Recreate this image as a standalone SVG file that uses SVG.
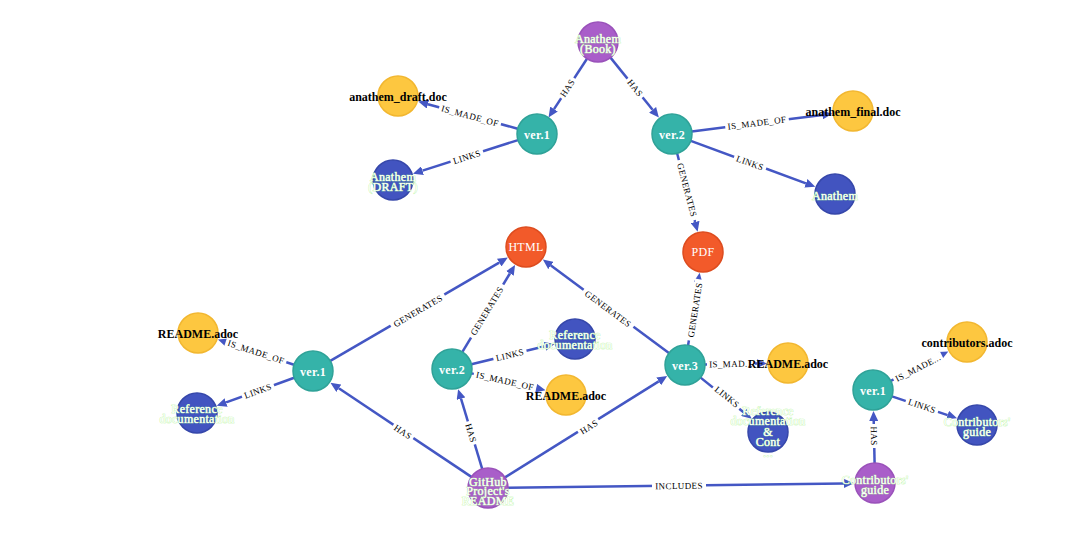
<svg xmlns="http://www.w3.org/2000/svg" width="1087" height="551" viewBox="0 0 1087 551">
<style>
.bg{fill:#fff}
.e{stroke:#4457c4;stroke-width:2.5;fill:none;marker-end:url(#arr)}
.lb{fill:#fff}
.lt{font-family:"Liberation Serif",serif;font-size:9px;fill:#000;text-anchor:middle;letter-spacing:0.4px}
.c{stroke-width:1.5}
.pu{fill:#a95ec9;stroke:#9a52ba}
.te{fill:#35b3a9;stroke:#2fa298}
.ye{fill:#fdc740;stroke:#f2b730}
.bl{fill:#4254c0;stroke:#3647aa}
.rd{fill:#f25a2a;stroke:#dd4c1f}
.cap{font-family:"Liberation Serif",serif;font-size:12px;fill:#fff;stroke:#b6f59c;stroke-width:0.7;paint-order:stroke;text-anchor:middle;letter-spacing:0.3px}
.v{font-weight:bold;stroke:none}
.w{stroke:none}
.dk{font-family:"Liberation Serif",serif;font-size:12px;font-weight:bold;fill:#000;text-anchor:middle}
</style>
<defs>
<marker id="arr" markerUnits="userSpaceOnUse" markerWidth="10" markerHeight="9" refX="0" refY="4.5" orient="auto"><path d="M0,0 L10,4.5 L0,9 Z" fill="#4457c4"/></marker>
</defs>
<rect class="bg" x="0" y="0" width="1087" height="551"/>
<g id="connectors">
<line class="e" x1="587" y1="58.7" x2="554" y2="109.1"/>
<line class="e" x1="610.5" y1="57.6" x2="652.6" y2="109.8"/>
<line class="e" x1="517.7" y1="128.7" x2="427.9" y2="104.2"/>
<line class="e" x1="518" y1="140.1" x2="422.5" y2="170.6"/>
<line class="e" x1="691.8" y1="131.5" x2="822.3" y2="114.9"/>
<line class="e" x1="690.8" y1="140.9" x2="805.9" y2="183.3"/>
<line class="e" x1="677.1" y1="153.3" x2="695.1" y2="222"/>
<line class="e" x1="471.4" y1="476.9" x2="338.8" y2="388.2"/>
<line class="e" x1="482.2" y1="468.9" x2="461" y2="398.7"/>
<line class="e" x1="505" y1="477.4" x2="658.7" y2="381.4"/>
<line class="e" x1="508" y1="487.7" x2="844" y2="483.4"/>
<line class="e" x1="294" y1="364.7" x2="227.4" y2="342.7"/>
<line class="e" x1="294.2" y1="377.8" x2="226.1" y2="402.4"/>
<line class="e" x1="330.3" y1="360.9" x2="499.2" y2="262.6"/>
<line class="e" x1="462.4" y1="351.9" x2="509.9" y2="273.5"/>
<line class="e" x1="471.4" y1="364.3" x2="544.9" y2="346.3"/>
<line class="e" x1="471.5" y1="373.4" x2="535.8" y2="388.1"/>
<line class="e" x1="668.9" y1="353.1" x2="550.9" y2="265.5"/>
<line class="e" x1="688.1" y1="345.2" x2="698.1" y2="282.6"/>
<line class="e" x1="705" y1="364.6" x2="757" y2="363.6"/>
<line class="e" x1="700.6" y1="377.6" x2="743.9" y2="412.5"/>
<line class="e" x1="874.6" y1="463" x2="873.7" y2="421"/>
<line class="e" x1="890.8" y1="380.9" x2="939.4" y2="356.1"/>
<line class="e" x1="892" y1="396.4" x2="947.6" y2="415.1"/>
<g transform="translate(567.5,88) rotate(-56.7)"><rect class="lb" x="-12" y="-5" width="24" height="10"/><text class="lt" y="3">HAS</text></g>
<g transform="translate(635,88) rotate(51.2)"><rect class="lb" x="-12" y="-5" width="24" height="10"/><text class="lt" y="3">HAS</text></g>
<g transform="translate(470,116) rotate(15.3)"><rect class="lb" x="-32" y="-5" width="64" height="10"/><text class="lt" y="3">IS_MADE_OF</text></g>
<g transform="translate(467,157) rotate(-17.7)"><rect class="lb" x="-17" y="-5" width="34" height="10"/><text class="lt" y="3">LINKS</text></g>
<g transform="translate(757,123) rotate(-7.2)"><rect class="lb" x="-32" y="-5" width="64" height="10"/><text class="lt" y="3">IS_MADE_OF</text></g>
<g transform="translate(750,163) rotate(20.2)"><rect class="lb" x="-17" y="-5" width="34" height="10"/><text class="lt" y="3">LINKS</text></g>
<g transform="translate(687,190) rotate(75.3)"><rect class="lb" x="-31" y="-5" width="62" height="10"/><text class="lt" y="3">GENERATES</text></g>
<g transform="translate(403,432) rotate(33.8)"><rect class="lb" x="-12" y="-5" width="24" height="10"/><text class="lt" y="3">HAS</text></g>
<g transform="translate(471,433) rotate(73.2)"><rect class="lb" x="-12" y="-5" width="24" height="10"/><text class="lt" y="3">HAS</text></g>
<g transform="translate(589,427) rotate(-32)"><rect class="lb" x="-12" y="-5" width="24" height="10"/><text class="lt" y="3">HAS</text></g>
<g transform="translate(679,486) rotate(-0.7)"><rect class="lb" x="-27" y="-5" width="54" height="10"/><text class="lt" y="3">INCLUDES</text></g>
<g transform="translate(256,352) rotate(18.3)"><rect class="lb" x="-32" y="-5" width="64" height="10"/><text class="lt" y="3">IS_MADE_OF</text></g>
<g transform="translate(258,391) rotate(-19.9)"><rect class="lb" x="-17" y="-5" width="34" height="10"/><text class="lt" y="3">LINKS</text></g>
<g transform="translate(418,311) rotate(-30.2)"><rect class="lb" x="-31" y="-5" width="62" height="10"/><text class="lt" y="3">GENERATES</text></g>
<g transform="translate(487,311) rotate(-58.8)"><rect class="lb" x="-31" y="-5" width="62" height="10"/><text class="lt" y="3">GENERATES</text></g>
<g transform="translate(510,355) rotate(-13.7)"><rect class="lb" x="-17" y="-5" width="34" height="10"/><text class="lt" y="3">LINKS</text></g>
<g transform="translate(505,381) rotate(12.8)"><rect class="lb" x="-32" y="-5" width="64" height="10"/><text class="lt" y="3">IS_MADE_OF</text></g>
<g transform="translate(608,309) rotate(36.6)"><rect class="lb" x="-31" y="-5" width="62" height="10"/><text class="lt" y="3">GENERATES</text></g>
<g transform="translate(695,310) rotate(-81)"><rect class="lb" x="-31" y="-5" width="62" height="10"/><text class="lt" y="3">GENERATES</text></g>
<g transform="translate(731,364) rotate(-1.1)"><rect class="lb" x="-24" y="-5" width="48" height="10"/><text class="lt" y="3">IS_MAD...</text></g>
<g transform="translate(727,397) rotate(38.9)"><rect class="lb" x="-17" y="-5" width="34" height="10"/><text class="lt" y="3">LINKS</text></g>
<g transform="translate(874,436) rotate(88.8)"><rect class="lb" x="-12" y="-5" width="24" height="10"/><text class="lt" y="3">HAS</text></g>
<g transform="translate(918,368) rotate(-27)"><rect class="lb" x="-27" y="-5" width="54" height="10"/><text class="lt" y="3">IS_MADE...</text></g>
<g transform="translate(922,406) rotate(18.6)"><rect class="lb" x="-17" y="-5" width="34" height="10"/><text class="lt" y="3">LINKS</text></g>
</g>
<g id="n-book"><circle class="c pu" cx="598" cy="42" r="20"/><text class="cap" x="598" y="43">Anathem</text><text class="cap" x="598" y="53">(Book)</text></g>
<g id="n-draftdoc"><circle class="c ye" cx="398" cy="96" r="20"/><text class="dk" x="398" y="101">anathem_draft.doc</text></g>
<g id="n-ver1a"><circle class="c te" cx="537" cy="134" r="20"/><text class="cap v" x="537" y="139">ver.1</text></g>
<g id="n-draft"><circle class="c bl" cx="393" cy="180" r="20"/><text class="cap" x="393" y="181">Anathem</text><text class="cap" x="393" y="191">(DRAFT)</text></g>
<g id="n-ver2a"><circle class="c te" cx="672" cy="134" r="20"/><text class="cap v" x="672" y="139">ver.2</text></g>
<g id="n-finaldoc"><circle class="c ye" cx="853" cy="111" r="20"/><text class="dk" x="853" y="116">anathem_final.doc</text></g>
<g id="n-anathem"><circle class="c bl" cx="835" cy="194" r="20"/><text class="cap" x="835" y="200">Anathem</text></g>
<g id="n-pdf"><circle class="c rd" cx="703" cy="252" r="20"/><text class="cap w" x="703" y="256">PDF</text></g>
<g id="n-html"><circle class="c rd" cx="526" cy="247" r="20"/><text class="cap w" x="526" y="251">HTML</text></g>
<g id="n-readme1"><circle class="c ye" cx="198" cy="333" r="20"/><text class="dk" x="198" y="338">README.adoc</text></g>
<g id="n-ver1b"><circle class="c te" cx="313" cy="371" r="20"/><text class="cap v" x="313" y="376">ver.1</text></g>
<g id="n-ref1"><circle class="c bl" cx="197" cy="413" r="20"/><text class="cap" x="197" y="413">Reference</text><text class="cap" x="197" y="423">documentation</text></g>
<g id="n-ver2b"><circle class="c te" cx="452" cy="369" r="20"/><text class="cap v" x="452" y="374">ver.2</text></g>
<g id="n-ref2"><circle class="c bl" cx="575" cy="339" r="20"/><text class="cap" x="575" y="339">Reference</text><text class="cap" x="575" y="349">documentation</text></g>
<g id="n-readme2"><circle class="c ye" cx="566" cy="395" r="20"/><text class="dk" x="566" y="400">README.adoc</text></g>
<g id="n-ver3"><circle class="c te" cx="685" cy="365" r="20"/><text class="cap v" x="685" y="370">ver.3</text></g>
<g id="n-readme3"><circle class="c ye" cx="788" cy="363" r="20"/><text class="dk" x="788" y="368">README.adoc</text></g>
<g id="n-ref3"><circle class="c bl" cx="768" cy="432" r="20"/><text class="cap" x="768" y="415">Reference</text><text class="cap" x="768" y="425">documentation</text><text class="cap" x="768" y="436">&amp;</text><text class="cap" x="768" y="446">Cont</text><text class="cap" x="768" y="457">...</text></g>
<g id="n-github"><circle class="c pu" cx="488" cy="488" r="20"/><text class="cap" x="488" y="485.5">GitHub</text><text class="cap" x="488" y="495">Project's</text><text class="cap" x="488" y="504.5">README</text></g>
<g id="n-contrib"><circle class="c pu" cx="875" cy="483" r="20"/><text class="cap" x="875" y="484">Contributors'</text><text class="cap" x="875" y="494">guide</text></g>
<g id="n-ver1c"><circle class="c te" cx="873" cy="390" r="20"/><text class="cap v" x="873" y="395">ver.1</text></g>
<g id="n-contribdoc"><circle class="c ye" cx="967" cy="342" r="20"/><text class="dk" x="967" y="347">contributors.adoc</text></g>
<g id="n-contribguide"><circle class="c bl" cx="977" cy="425" r="20"/><text class="cap" x="977" y="426">Contributors'</text><text class="cap" x="977" y="436">guide</text></g>
</svg>
